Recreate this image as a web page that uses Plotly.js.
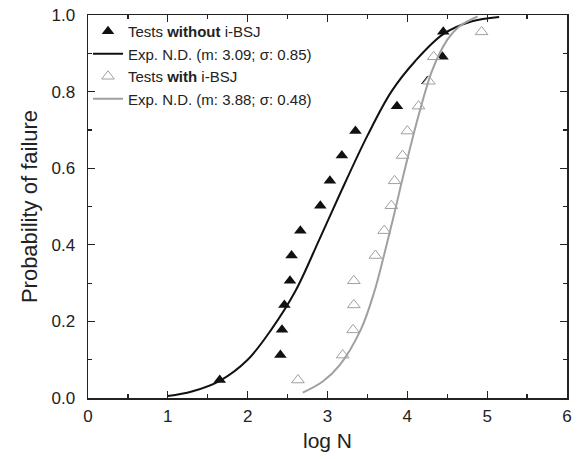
<!DOCTYPE html>
<html>
<head>
<meta charset="utf-8">
<script src="https://cdn.plot.ly/plotly-3.0.1.min.js"></script>
<style>html,body{margin:0;padding:0;background:#fff;}</style>
</head>
<body>
<div id="chart" style="width:577px;height:459px;"></div>
<script>
// Data
const withoutX = [1.65, 2.41, 2.43, 2.46, 2.53, 2.55, 2.66, 2.91, 3.03, 3.18, 3.35, 3.87, 4.25, 4.44, 4.45];
const withoutY = [0.047, 0.112, 0.178, 0.243, 0.306, 0.372, 0.437, 0.502, 0.567, 0.633, 0.697, 0.762, 0.827, 0.891, 0.956];
const withX = [2.63, 3.19, 3.32, 3.33, 3.33, 3.60, 3.71, 3.80, 3.84, 3.94, 4.00, 4.14, 4.27, 4.33, 4.93];
const withY = [0.047, 0.112, 0.178, 0.243, 0.306, 0.372, 0.437, 0.502, 0.567, 0.633, 0.697, 0.762, 0.827, 0.891, 0.956];

const fitWithoutX = [1.0, 1.3, 1.65, 2.0, 2.3, 2.6, 2.9, 3.15, 3.5, 3.8, 4.1, 4.45, 4.8, 5.15];
const fitWithoutY = [0.005, 0.017, 0.045, 0.10, 0.18, 0.28, 0.415, 0.53, 0.685, 0.80, 0.88, 0.95, 0.983, 0.995];
const fitWithX = [2.69, 2.94, 3.15, 3.42, 3.59, 3.71, 3.835, 3.96, 4.15, 4.32, 4.5, 4.65, 4.88];
const fitWithY = [0.014, 0.043, 0.085, 0.18, 0.28, 0.375, 0.48, 0.59, 0.745, 0.86, 0.935, 0.97, 0.996];

const names = [
  'Tests <b>without</b> i-BSJ',
  'Exp. N.D. (m: 3.09; σ: 0.85)',
  'Tests <b>with</b> i-BSJ',
  'Exp. N.D. (m: 3.88; σ: 0.48)'
];

const FONT = 'Liberation Sans, Arial, Helvetica, sans-serif';

const traces = [
  {x: withoutX, y: withoutY, mode: 'markers', name: names[0],
   marker: {symbol: 'triangle-up', size: 11, color: '#111', line: {width: 0}}},
  {x: fitWithoutX, y: fitWithoutY, mode: 'lines', name: names[1],
   line: {color: '#111', width: 2, shape: 'spline', smoothing: 1}},
  {x: withX, y: withY, mode: 'markers', name: names[2],
   marker: {symbol: 'triangle-up', size: 11, color: '#fff', line: {color: '#a0a0a0', width: 1}}},
  {x: fitWithX, y: fitWithY, mode: 'lines', name: names[3],
   line: {color: '#a0a0a0', width: 2, shape: 'spline', smoothing: 1}}
];

const axisCommon = {
  showline: true, linecolor: '#222', linewidth: 1.5, mirror: 'allticks',
  ticks: 'inside', ticklen: 7, tickwidth: 1.2, tickcolor: '#222',
  showgrid: false, zeroline: false,
  tickfont: {family: FONT, size: 17, color: '#222'}
};

const layout = {
  width: 577, height: 459,
  margin: {l: 88, r: 10, t: 15, b: 61},
  paper_bgcolor: '#fff', plot_bgcolor: '#fff',
  font: {family: FONT, color: '#222'},
  showlegend: true,
  legend: {x: 0, y: 1, xanchor: 'left', yanchor: 'top', bgcolor: 'rgba(0,0,0,0)',
           font: {family: FONT, size: 15, color: '#222'}, tracegroupgap: 0,
           itemwidth: 30},
  xaxis: Object.assign({}, axisCommon, {
    range: [0, 6], dtick: 1, tick0: 0,
    minor: {ticks: 'inside', ticklen: 4, dtick: 0.5, tickcolor: '#222', tickwidth: 1.2},
    ticklabelstandoff: 2,
    title: {text: 'log N', font: {family: FONT, size: 21, color: '#222'}, standoff: 8}
  }),
  yaxis: Object.assign({}, axisCommon, {
    range: [0, 1], dtick: 0.2, tick0: 0, tickformat: '.1f',
    minor: {ticks: 'inside', ticklen: 4, dtick: 0.1, tickcolor: '#222', tickwidth: 1.2},
    ticklabelstandoff: 8,
    title: {text: 'Probability of failure', font: {family: FONT, size: 22, color: '#222'}, standoff: 8}
  })
};

Plotly.newPlot('chart', traces, layout, {displayModeBar: false, staticPlot: true});
</script>
</body>
</html>
